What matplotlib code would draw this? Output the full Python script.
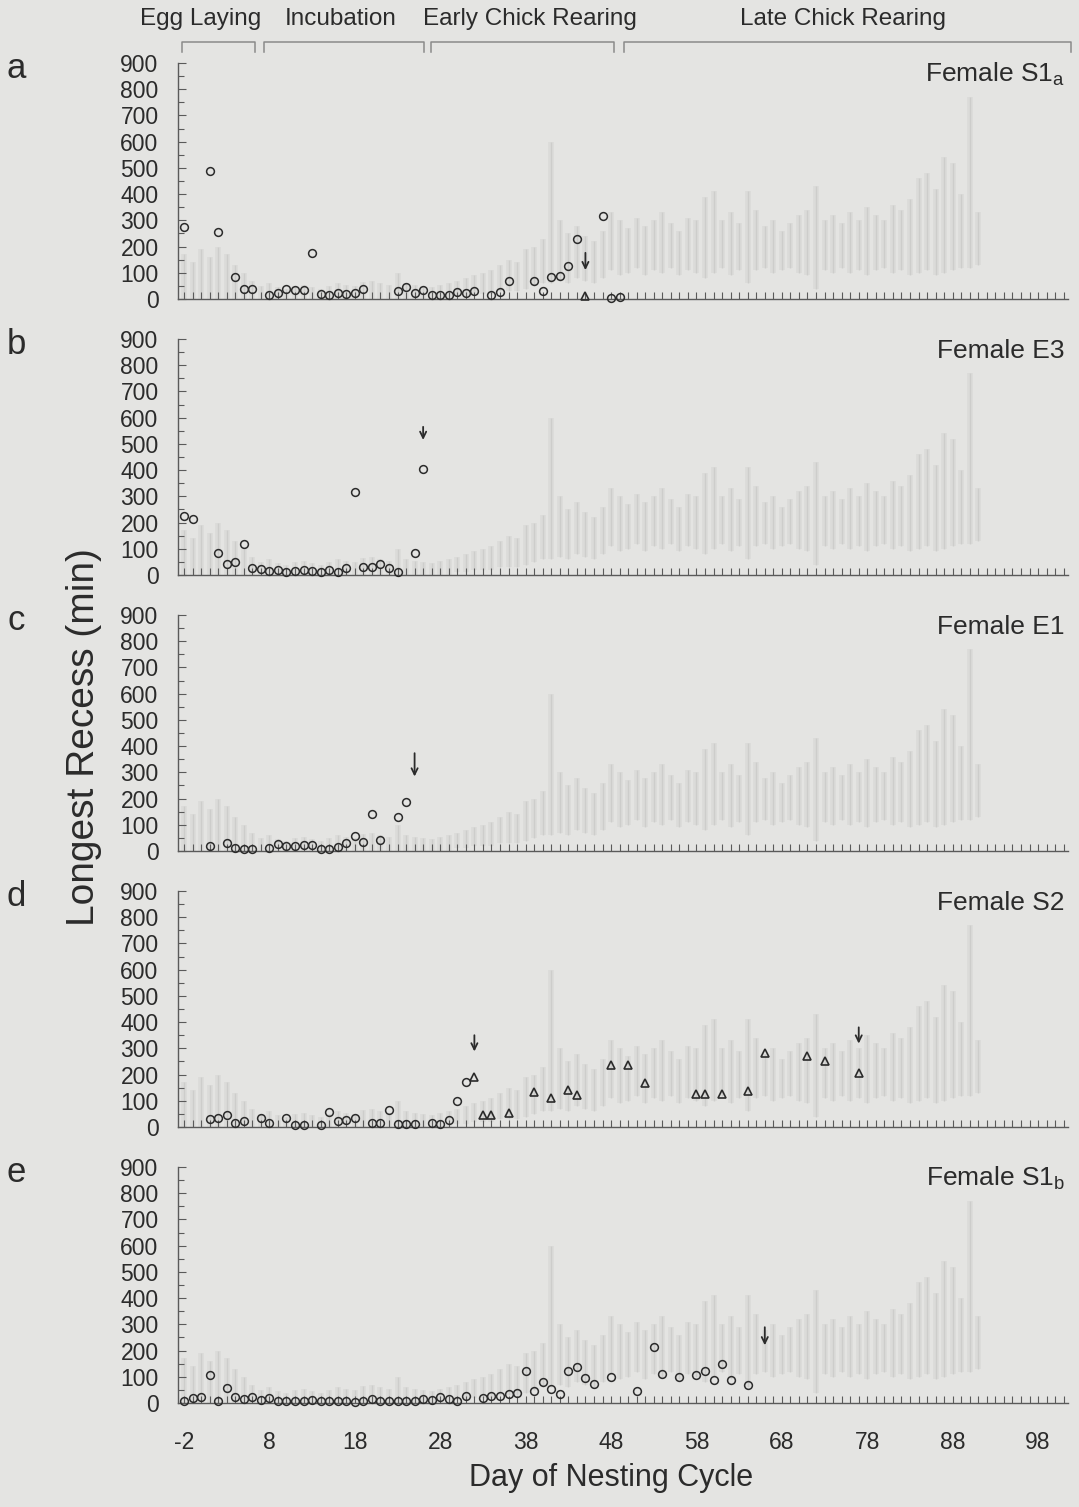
import numpy as np
import matplotlib
matplotlib.use("Agg")
import matplotlib.pyplot as plt
from matplotlib.ticker import MultipleLocator, FixedLocator
from matplotlib.transforms import blended_transform_factory

plt.rcParams['font.family'] = ['Liberation Sans', 'DejaVu Sans']
plt.rcParams['mathtext.fontset'] = 'custom'
plt.rcParams['mathtext.rm'] = 'Liberation Sans'
plt.rcParams['axes.unicode_minus'] = False

BG = '#e4e4e2'
INK = '#2b2b2b'
AXC = '#5a5a5a'

# --- data (day of nesting cycle, longest recess in min) ---
# a: Female S1a
a_days = [-2, 1, 2, 4, 5, 6, 8, 9, 10, 11, 12, 13, 14, 15, 16, 17, 18, 19,
          23, 24, 25, 26, 27, 28, 29, 30, 31, 32, 34, 35, 36, 39, 40, 41, 42,
          43, 44, 47, 48, 49]
a_vals = [273, 490, 257, 82, 37, 37, 17, 22, 40, 35, 35, 176, 18, 15, 23, 18,
          24, 37, 31, 45, 22, 33, 17, 15, 15, 26, 24, 31, 15, 26, 70, 70, 31,
          82, 89, 125, 228, 315, 3, 9]
a_tri_days = [45]
a_tri_vals = [12]
a_arrows = [(45, 110, 176)]

# b: Female E3
b_days = [-2, -1, 2, 3, 4, 5, 6, 7, 8, 9, 10, 11, 12, 13, 14, 15, 16, 17, 18,
          19, 20, 21, 22, 23, 25, 26]
b_vals = [224, 214, 82, 42, 48, 120, 28, 21, 15, 18, 11, 15, 19, 14, 11, 19,
          11, 25, 316, 30, 30, 43, 25, 11, 82, 403]
b_tri_days = []
b_tri_vals = []
b_arrows = [(26, 515, 565)]

# c: Female E1
c_days = [1, 3, 4, 5, 6, 8, 9, 10, 11, 12, 13, 14, 15, 16, 17, 18, 19, 20, 21,
          23, 24]
c_vals = [19, 29, 13, 6, 8, 13, 27, 19, 20, 21, 21, 8, 9, 15, 29, 57, 34, 142,
          43, 131, 187]
c_tri_days = []
c_tri_vals = []
c_arrows = [(25, 284, 373)]

# d: Female S2
d_days = [1, 2, 3, 4, 5, 7, 8, 10, 11, 12, 14, 15, 16, 17, 18, 20, 21, 22, 23,
          24, 25, 27, 28, 29, 30, 31]
d_vals = [29, 34, 44, 16, 24, 36, 15, 35, 9, 9, 9, 56, 24, 26, 35, 16, 16, 64,
          10, 10, 10, 16, 10, 25, 98, 171]
d_tri_days = [32, 33, 34, 36, 39, 41, 43, 44, 48, 50, 52, 58, 59, 61, 64, 66,
              71, 73, 77]
d_tri_vals = [191, 47, 47, 54, 133, 112, 141, 121, 237, 237, 166, 127, 127,
              127, 137, 281, 271, 253, 206]
d_arrows = [(32, 288, 350), (77, 318, 380)]

# e: Female S1b
e_days = [-2, -1, 0, 1, 2, 3, 4, 5, 6, 7, 8, 9, 10, 11, 12, 13, 14, 15, 16, 17,
          18, 19, 20, 21, 22, 23, 24, 25, 26, 27, 28, 29, 30, 31, 33, 34, 35,
          36, 37, 38, 39, 40, 41, 42, 43, 44, 45, 46, 48, 51, 53, 54, 56, 58,
          59, 60, 61, 62, 64]
e_vals = [9, 18, 23, 107, 9, 58, 24, 15, 24, 13, 18, 6, 6, 6, 6, 10, 6, 6, 6,
          6, 4, 9, 15, 9, 9, 9, 9, 9, 15, 13, 21, 17, 7, 27, 20, 25, 28, 36,
          38, 123, 46, 80, 54, 34, 123, 138, 94, 73, 99, 44, 212, 112, 98, 105,
          123, 88, 147, 88, 69]
e_tri_days = []
e_tri_vals = []
e_arrows = [(66, 220, 289)]

female_labels = [r'Female S1$_{\mathrm{a}}$', 'Female E3', 'Female E1',
                 'Female S2', r'Female S1$_{\mathrm{b}}$']
panel_letters = ['a', 'b', 'c', 'd', 'e']

# show-through from the reverse page (same faint bars behind every panel)
ghost_days = list(range(-2, 92))
ghost_high = [170, 140, 190, 160, 200, 170, 130, 100, 70, 50, 60, 45, 40, 50,
              55, 45, 40, 50, 60, 55, 50, 65, 70, 60, 55, 100, 60, 55, 50, 45,
              55, 60, 70, 80, 90, 100, 110, 130, 150, 140, 190, 200, 230, 600,
              300, 250, 280, 240, 220, 260, 330, 300, 270, 310, 280, 300, 330,
              290, 260, 310, 300, 390, 410, 300, 330, 290, 410, 340, 280, 300,
              260, 290, 320, 340, 430, 300, 320, 290, 330, 300, 350, 320, 300,
              360, 340, 380, 460, 480, 420, 540, 520, 400, 770, 330]
ghost_low = [0] * 32 + [10, 10, 20, 20, 20, 30, 30, 30,
                        40, 50, 60, 60, 70, 60, 80, 70, 60, 80,
                        110, 90, 100, 120, 90, 110, 100, 120, 90, 110, 100, 80,
                        100, 120, 90, 110, 60, 110, 120, 100, 110, 120, 100, 90,
                        40, 110, 100, 120, 100, 110, 90, 110, 120, 100, 110, 90,
                        100, 110, 90, 100, 110, 120, 120, 130]

phase_names = ['Egg Laying', 'Incubation', 'Early Chick Rearing',
               'Late Chick Rearing']
phase_start = [-2.2, 7.4, 26.9, 49.5]
phase_end = [6.3, 26.1, 48.4, 101.8]

panels = [
    (a_days, a_vals, a_tri_days, a_tri_vals, a_arrows),
    (b_days, b_vals, b_tri_days, b_tri_vals, b_arrows),
    (c_days, c_vals, c_tri_days, c_tri_vals, c_arrows),
    (d_days, d_vals, d_tri_days, d_tri_vals, d_arrows),
    (e_days, e_vals, e_tri_days, e_tri_vals, e_arrows),
]

# --- layout (pixels of the 1079x1507 picture) ---
W, H = 1079, 1507
fig = plt.figure(figsize=(W / 100, H / 100), dpi=100, facecolor=BG)

left_px, right_px = 178, 1068
base_px = [299, 575, 851, 1127, 1403]
h_px = 236

axes = []
for i, (days, vals, tdays, tvals, arrows) in enumerate(panels):
    ax = fig.add_axes([left_px / W, 1 - base_px[i] / H,
                       (right_px - left_px) / W, h_px / H])
    ax.set_facecolor('none')
    ax.set_xlim(-2.7, 101.5)
    ax.set_ylim(0, 900)

    # faint show-through bars
    ax.vlines(ghost_days, ghost_low, ghost_high, colors='#dbdbd9', lw=4,
              zorder=0)
    ax.vlines(ghost_days, ghost_low, ghost_high, colors='#cacac8', lw=1.0,
              alpha=0.8, zorder=0)

    ax.plot(days, vals, 'o', mfc='none', mec=INK, ms=5.6, mew=1.1,
            clip_on=False, zorder=3)
    if tdays:
        ax.plot(tdays, tvals, '^', mfc='none', mec=INK, ms=6, mew=1.2,
                clip_on=False, zorder=3)
    for d, tip, tail in arrows:
        ax.annotate('', xy=(d, tip), xytext=(d, tail),
                    arrowprops=dict(arrowstyle='->,head_length=0.45,head_width=0.22',
                                    color=INK, lw=1.3, shrinkA=0, shrinkB=0))

    for s in ['top', 'right']:
        ax.spines[s].set_visible(False)
    for s in ['left', 'bottom']:
        ax.spines[s].set_color(AXC)
        ax.spines[s].set_linewidth(1.0)

    ax.yaxis.set_major_locator(MultipleLocator(100))
    ax.yaxis.set_minor_locator(MultipleLocator(50))
    ax.xaxis.set_major_locator(FixedLocator(np.arange(-2, 99, 10)))
    ax.xaxis.set_minor_locator(MultipleLocator(1))
    ax.tick_params(axis='both', which='both', direction='in', color=AXC,
                   width=0.8)
    ax.tick_params(axis='y', which='major', length=6, pad=14, labelsize=16.5,
                   labelcolor=INK)
    ax.tick_params(axis='y', which='minor', length=4)
    ax.tick_params(axis='x', which='both', length=5, pad=20, labelsize=16.5,
                   labelcolor=INK)
    if i < 4:
        ax.tick_params(axis='x', labelbottom=False)

    ax.text(0.9966, 1 - 19 / h_px, female_labels[i], transform=ax.transAxes,
            ha='right', va='baseline', fontsize=19, color=INK)
    fig.text(16 / W, 1 - (base_px[i] - h_px + 6) / H, panel_letters[i],
             ha='center', va='center', fontsize=25, color=INK)
    axes.append(ax)

# phase brackets above panel a
ax0 = axes[0]
tr = blended_transform_factory(ax0.transData, ax0.transAxes)
yb = 1 + 21 / h_px
yt = 1 + 11 / h_px
for x0, x1 in zip(phase_start, phase_end):
    ax0.plot([x0, x0, x1, x1], [yt, yb, yb, yt], color='#8a8a8a', lw=1.1,
             transform=tr, clip_on=False)
label_x = [0.0, 16.4, 38.5, 75.1]
for name, lx in zip(phase_names, label_x):
    ax0.text(lx, 1 + 44 / h_px, name, transform=tr, ha='center',
             va='center', fontsize=17.5, color=INK)

fig.text(84 / W, 1 - 737 / H, 'Longest Recess (min)', rotation=90,
         ha='center', va='center', fontsize=28, color=INK)
fig.text(611 / W, 1 - 1478 / H, 'Day of Nesting Cycle', ha='center',
         va='center', fontsize=22, color=INK)

fig.savefig('out.png', dpi=100, facecolor=BG)
